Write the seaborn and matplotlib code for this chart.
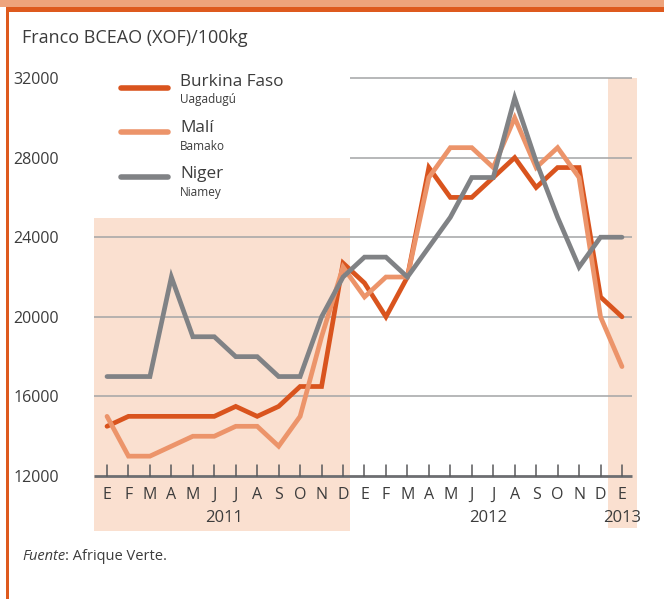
import numpy as np
import pandas as pd
import matplotlib
matplotlib.use("Agg")
import matplotlib.pyplot as plt
from matplotlib.patches import Rectangle
from matplotlib.lines import Line2D
import seaborn as sns

# ---- data ----
months = ["E", "F", "M", "A", "M", "J", "J", "A", "S", "O", "N", "D",
          "E", "F", "M", "A", "M", "J", "J", "A", "S", "O", "N", "D", "E"]
years = ["2011", "2012", "2013"]
burkina = [14500, 15000, 15000, 15000, 15000, 15000, 15500, 15000, 15500, 16500, 16500, 22700,
           21700, 20000, 22000, 27500, 26000, 26000, 27000, 28000, 26500, 27500, 27500, 21000, 20000]
mali = [15000, 13000, 13000, 13500, 14000, 14000, 14500, 14500, 13500, 15000, 19000, 22500,
        21000, 22000, 22000, 27000, 28500, 28500, 27500, 30000, 27500, 28500, 27000, 20000, 17500]
niger = [17000, 17000, 17000, 22000, 19000, 19000, 18000, 18000, 17000, 17000, 20000, 22000,
         23000, 23000, 22000, 23500, 25000, 27000, 27000, 31000, 27800, 25000, 22500, 24000, 24000]
series_names = ["Burkina Faso", "Malí", "Niger"]
series_cities = ["Uagadugú", "Bamako", "Niamey"]
yticks = [12000, 16000, 20000, 24000, 28000, 32000]

colors = {"Burkina Faso": "#D9541E", "Malí": "#EC946A", "Niger": "#808285"}

sns.set_style("white")
plt.rcParams["font.family"] = ["Open Sans", "DejaVu Sans"]

W, H = 664, 599
fig = plt.figure(figsize=(W / 100, H / 100), dpi=100)

def fx(px):
    return px / W

def fy(py):
    return 1 - py / H

ax_left, ax_right, ax_top, ax_bot = 94, 637, 76, 531
ax = fig.add_axes([fx(ax_left), fy(ax_bot), (ax_right - ax_left) / W, (ax_bot - ax_top) / H])

x0, x1 = -0.606, 24.70
y0, y1 = 9240, 32100
ax.set_xlim(x0, x1)
ax.set_ylim(y0, y1)
for s in ax.spines.values():
    s.set_visible(False)

shade = "#FAE0D0"
ax.add_patch(Rectangle((x0, y0), 11.32 - x0, 24970 - y0, color=shade, lw=0, zorder=0))
ax.add_patch(Rectangle((23.35, 9390), x1 - 23.35, 32000 - 9390, color=shade, lw=0, zorder=0))

# gridlines
grid_right = 24.46
for v in yticks[1:]:
    ax.plot([x0, grid_right], [v, v], color="#A3A4A6", lw=1.1, zorder=1, solid_capstyle="butt")
# legend white box covering upper gridlines on the left
ax.add_patch(Rectangle((x0, 25400), 11.32 - x0, y1 - 25400, color="white", lw=0, zorder=1.5))

# axis line and ticks
ax.plot([x0, grid_right], [12000, 12000], color="#6D6E71", lw=2.0, zorder=2, solid_capstyle="butt")
for i in range(len(months)):
    ax.plot([i, i], [12000, 12560], color="#58595B", lw=1.1, zorder=2)
    ax.text(i, 11040, months[i], ha="center", va="center", fontsize=11.5, color="#3C3C3C")

year_pos = [5.45, 17.75, 24.0]
for xp, yl in zip(year_pos, years):
    ax.text(xp, 9900, yl, ha="center", va="center", fontsize=12, color="#3C3C3C")

# data lines
df = pd.DataFrame({
    "x": list(range(len(months))) * 3,
    "y": burkina + mali + niger,
    "serie": [series_names[0]] * len(months) + [series_names[1]] * len(months) + [series_names[2]] * len(months),
})
sns.lineplot(data=df, x="x", y="y", hue="serie", palette=colors, sort=False,
             lw=3.4, ax=ax, legend=False, zorder=3)
for ln in ax.get_lines()[-3:]:
    ln.set_solid_capstyle("round")
    ln.set_solid_joinstyle("miter")

ax.set_xlabel("")
ax.set_ylabel("")
ax.set_xticks([])
ax.set_yticks(yticks)
ax.set_yticklabels([str(v) for v in yticks], fontsize=11.5, color="#3C3C3C")
ax.tick_params(axis="y", length=0, pad=25)

# legend (manual)
leg_y = [(88, 82, 100), (132, 128, 146), (177, 174, 192)]
for name, city, (ly, ty, cy) in zip(series_names, series_cities, leg_y):
    fig.add_artist(Line2D([fx(121), fx(168)], [fy(ly), fy(ly)], color=colors[name],
                          lw=4.0, solid_capstyle="round", transform=fig.transFigure))
    fig.text(fx(180), fy(ty), name, ha="left", va="center", fontsize=12.3, color="#3C3C3C")
    fig.text(fx(180), fy(cy), city, ha="left", va="center", fontsize=8.5, color="#3C3C3C")

# title and source
fig.text(fx(22), fy(38), "Franco BCEAO (XOF)/100kg", ha="left", va="center", fontsize=13, color="#3C3C3C")
t1 = fig.text(fx(22), fy(556), "Fuente", ha="left", va="center", fontsize=10.5, style="italic", color="#3C3C3C")
fig.canvas.draw()
bb = t1.get_window_extent(renderer=fig.canvas.get_renderer())
fig.text(bb.x1 / W, fy(556), ": Afrique Verte.", ha="left", va="center", fontsize=10.5, color="#3C3C3C")

# page frame
fig.add_artist(Rectangle((0, fy(7)), 1, 7 / H, color="#EEA47C", lw=0, transform=fig.transFigure))
fig.add_artist(Rectangle((fx(6), fy(12)), 1, 5 / H, color="#DE5A1E", lw=0, transform=fig.transFigure))
fig.add_artist(Rectangle((fx(6), 0), 2.5 / W, fy(7), color="#DE5A1E", lw=0, transform=fig.transFigure))

fig.savefig("out.png", dpi=100)
